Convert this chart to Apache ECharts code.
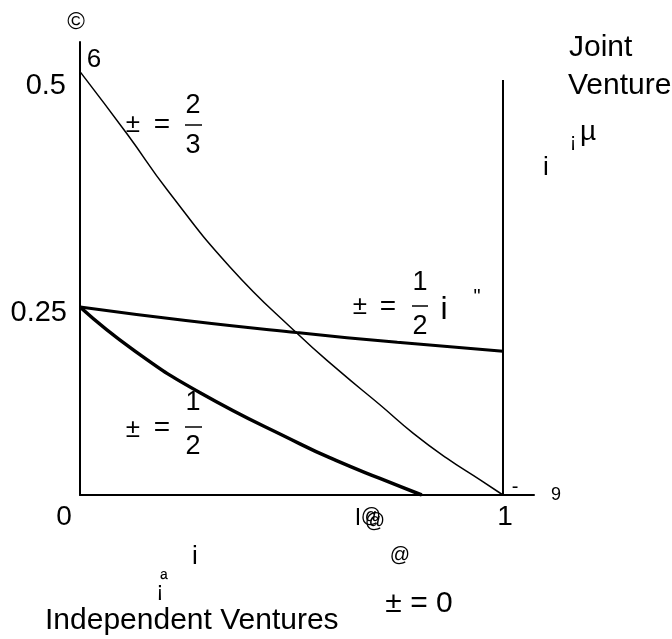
<!DOCTYPE html>
<html>
<head>
<meta charset="utf-8">
<script src="https://cdn.jsdelivr.net/npm/echarts@6/dist/echarts.min.js"></script>
<style>
  html, body { margin: 0; padding: 0; background: #fff; }
  #chart { width: 672px; height: 639px; }
</style>
</head>
<body>
<div id="chart"></div>
<script>
  // curves, [x, y]
  const curveTwoThirds = [[0, 0.563], [0.114, 0.478], [0.206, 0.406], [0.355, 0.303], [0.513, 0.215], [0.615, 0.164], [0.709, 0.120], [0.788, 0.082], [0.867, 0.049], [0.946, 0.020], [1, 0]]
  const curveHalfMinus = [[0, 0.250], [0.25, 0.232], [0.512, 0.216], [0.75, 0.203], [1, 0.191]]
  const curveHalf = [[0, 0.250], [0.126, 0.193], [0.284, 0.136], [0.52, 0.068], [0.605, 0.046], [0.709, 0.022], [0.808, 0]]
  const jvBoundary = [[1, 0], [1, 0.552]]

  const FONT = '"Liberation Sans", Arial, sans-serif'

  const chart = echarts.init(document.getElementById('chart'), null, { renderer: 'canvas' })

  // text helper for the loose annotations
  function txt(x, y, s, size, align) {
    return {
      type: 'text', x: x, y: y,
      style: {
        text: s, fill: '#000', font: size + 'px ' + FONT,
        textAlign: align || 'center', textVerticalAlign: 'middle'
      }
    }
  }
  function bar(x1, x2, y) {
    return { type: 'line', shape: { x1: x1, y1: y, x2: x2, y2: y }, style: { stroke: '#000', lineWidth: 1.5 } }
  }

  const lineSeries = (data, width) => ({
    type: 'line',
    data: data,
    showSymbol: false,
    smooth: true,
    lineStyle: { color: '#000', width: width },
    silent: true
  })

  const option = {
    animation: false,
    backgroundColor: '#fff',
    grid: { left: 80, top: 42, right: 138, bottom: 144 },
    xAxis: {
      type: 'value', min: 0, max: 1.0733,
      axisLine: { show: true, lineStyle: { color: '#000', width: 2 } },
      axisTick: { show: false }, axisLabel: { show: false }, splitLine: { show: false }
    },
    yAxis: {
      type: 'value', min: 0, max: 0.6024,
      axisLine: { show: true, lineStyle: { color: '#000', width: 2 } },
      axisTick: { show: false }, axisLabel: { show: false }, splitLine: { show: false }
    },
    series: [
      lineSeries(curveTwoThirds, 1.5),
      lineSeries(curveHalfMinus, 3),
      lineSeries(curveHalf, 3.5),
      { type: 'line', data: jvBoundary, showSymbol: false, lineStyle: { color: '#000', width: 2 }, silent: true }
    ],
    graphic: [
      txt(76, 22, '©', 24),
      txt(94, 60, '6', 26),
      txt(66, 86, '0.5', 29, 'right'),
      txt(67, 313, '0.25', 29, 'right'),
      txt(64, 517, '0', 28),
      txt(505, 517, '1', 28),
      // alpha = 2/3
      txt(133, 125, '±', 26), txt(162, 125, '=', 28),
      txt(193, 106, '2', 27), bar(185, 202, 125), txt(193, 146, '3', 27),
      // alpha = 1/2
      txt(133, 430, '±', 26), txt(162, 428, '=', 28),
      txt(193, 403, '1', 27), bar(185, 202, 427), txt(193, 447, '2', 27),
      // alpha = 1/2 - eps
      txt(360, 307, '±', 26), txt(388, 307, '=', 28),
      txt(420, 283, '1', 27), bar(412, 428, 306), txt(420, 327, '2', 27),
      txt(444, 310, 'i', 32), txt(477, 297, '"', 20),
      // top right
      txt(569, 48, 'Joint', 30, 'left'),
      txt(568, 86, 'Venture', 30, 'left'),
      txt(573, 141, '¡', 20), txt(588, 132, 'µ', 28),
      txt(546, 168, 'i', 26),
      txt(515, 487, '-', 20),
      txt(556, 495, '9', 18),
      // bottom
      txt(358, 518, 'l', 24), txt(371, 516, '@', 20), txt(375, 521, '@', 20),
      txt(400, 555, '@', 20),
      txt(419, 604, '± = 0', 30),
      txt(195, 557, 'i', 26),
      txt(164, 580, 'ª', 20), txt(160, 591, '¡', 22),
      txt(45, 621, 'Independent Ventures', 30, 'left')
    ]
  }

  chart.setOption(option)
</script>
</body>
</html>
